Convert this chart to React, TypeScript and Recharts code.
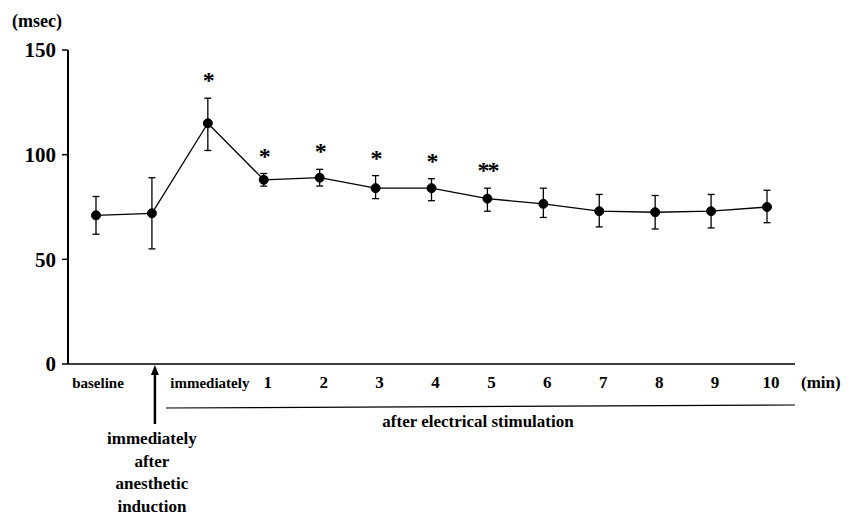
import React from "react";
import { LineChart, Line, XAxis, YAxis, ErrorBar, LabelList } from "recharts";

// time points (category keys) and what is printed under the axis
const categories = ["baseline", "anesthesia", "immediately", "1", "2", "3", "4", "5", "6", "7", "8", "9", "10"];
const tickLabels = ["baseline", "", "immediately", "1", "2", "3", "4", "5", "6", "7", "8", "9", "10"];

// msec
const meanValues = [71, 72, 115, 88, 89, 84, 84, 79, 76.5, 73, 72.5, 73, 75];
const upperValues = [80, 89, 127, 91, 93, 90, 88.5, 84, 84, 81, 80.5, 81, 83];
const lowerValues = [62, 55, 102, 85, 85, 79, 78, 73, 70, 65.5, 64.5, 65, 67.5];

// significance marks
const stars = ["", "", "*", "*", "*", "*", "*", "**", "", "", "", "", ""];

const yTicks = [0, 50, 100, 150];
const anesthesiaLabel = ["immediately", "after", "anesthetic", "induction"];

const data = categories.map((c, i) => ({
  name: c,
  mean: meanValues[i],
  upper: upperValues[i],
  err: [meanValues[i] - lowerValues[i], upperValues[i] - meanValues[i]],
  star: stars[i],
}));

const FONT = "'Liberation Serif', 'Times New Roman', serif";
const txt = { fontFamily: FONT, fontWeight: "bold" as const };

const XTick = (props: any) => {
  const { x, y, payload } = props;
  const idx = categories.indexOf(payload.value);
  const label = tickLabels[idx];
  if (idx === 1) {
    // arrow + multi-line label for the anesthesia point
    return (
      <g>
        <line x1={x + 3} y1={y + 8} x2={x + 3} y2={y + 60} stroke="#000" strokeWidth={2.5} />
        <polygon points={`${x + 3},${y + 1} ${x - 1},${y + 11} ${x + 7},${y + 11}`} fill="#000" />
        {anesthesiaLabel.map((t, k) => (
          <text key={t} x={x} y={y + 80 + k * 22.5} textAnchor="middle" style={{ ...txt, fontSize: 17 }} fill="#000">
            {t}
          </text>
        ))}
      </g>
    );
  }
  const isNum = /^\d+$/.test(label);
  return (
    <text
      x={x + (isNum ? 4 : 2)}
      y={y + 24}
      textAnchor="middle"
      style={{ ...txt, fontSize: isNum ? 17 : 15 }}
      fill="#000"
    >
      {label}
    </text>
  );
};

const StarLabel = (props: any) => {
  const { x, y, value } = props;
  if (!value) return null;
  return (
    <text x={x} y={y - 10} textAnchor="middle" style={{ ...txt, fontSize: 24, letterSpacing: -2 }} fill="#000">
      {value}
    </text>
  );
};

export default function App() {
  return (
    <div style={{ position: "absolute", left: 0, top: 0, width: 850, height: 518, background: "#fff" }}>
      <LineChart
        width={850}
        height={518}
        data={data}
        margin={{ top: 50, right: 55, left: 8, bottom: 124 }}
      >
        <XAxis
          dataKey="name"
          padding={{ left: 28, right: 28 }}
          axisLine={{ stroke: "#000", strokeWidth: 1.5 }}
          tickLine={false}
          tickSize={0}
          tickMargin={0}
          height={30}
          interval={0}
          tick={<XTick />}
        />
        <YAxis
          domain={[0, 150]}
          ticks={yTicks}
          width={60}
          axisLine={{ stroke: "#000", strokeWidth: 2 }}
          tickLine={{ stroke: "#000", strokeWidth: 1.5 }}
          tickSize={6}
          tickMargin={6}
          tick={{ fontFamily: FONT, fontWeight: "bold", fontSize: 21, fill: "#000" }}
        />
        <Line
          dataKey="mean"
          stroke="#000"
          strokeWidth={1.3}
          dot={{ r: 4.5, fill: "#000", stroke: "#000", strokeWidth: 1 }}
          activeDot={false}
          isAnimationActive={false}
        >
          <ErrorBar dataKey="err" direction="y" width={3.5} stroke="#000" strokeWidth={1.3} />
        </Line>
        <Line
          dataKey="upper"
          stroke="none"
          dot={false}
          activeDot={false}
          isAnimationActive={false}
        >
          <LabelList dataKey="star" content={<StarLabel />} />
        </Line>
      </LineChart>
      <svg
        width={850}
        height={518}
        style={{ position: "absolute", left: 0, top: 0, pointerEvents: "none" }}
      >
        <text x={12} y={27} style={{ ...txt, fontSize: 18 }} fill="#000">
          (msec)
        </text>
        <text x={801} y={388} style={{ ...txt, fontSize: 17 }} fill="#000">
          (min)
        </text>
        <line x1={166} y1={408} x2={795} y2={405} stroke="#000" strokeWidth={1.2} />
        <text x={478} y={427} textAnchor="middle" style={{ ...txt, fontSize: 17 }} fill="#000">
          after electrical stimulation
        </text>
      </svg>
    </div>
  );
}
